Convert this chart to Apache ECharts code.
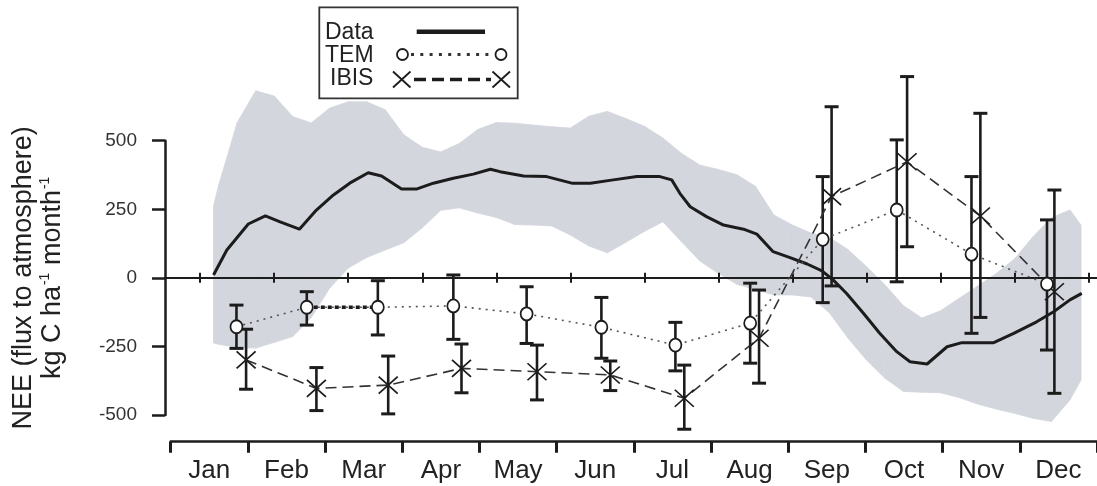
<!DOCTYPE html>
<html>
<head>
<meta charset="utf-8">
<script src="https://cdn.jsdelivr.net/npm/echarts@6/dist/echarts.min.js"></script>
<style>
html,body{margin:0;padding:0;background:#fff;}
#chart{width:1097px;height:486px;}
</style>
</head>
<body>
<div id="chart"></div>
<script>
// ---------- data ----------
const MONTHS = ['Jan','Feb','Mar','Apr','May','Jun','Jul','Aug','Sep','Oct','Nov','Dec'];
const Y_TICKS = [-500, -250, 0, 250, 500];
const MONTH_BOUNDS = [0,1,2,3,4,5,6,7,8,9,10,11,12];

// grey range band (x in months from 1 Jan)
const BAND_X = [0.18,0.25,0.5,0.75,1,1.25,1.5,1.75,2,2.25,2.5,2.75,3,3.25,3.5,3.75,4,4.25,4.5,4.75,5,5.25,5.5,5.75,6,6.25,6.5,6.75,7,7.25,7.5,7.75,8,8.25,8.5,8.75,9,9.25,9.5,9.75,10,10.25,10.5,10.75,11,11.25,11.5,11.75,11.9];
const BAND_UPPER = [262,338,566,682,663,588,565,619,642,642,613,522,476,459,490,541,566,564,557,551,546,589,607,581,553,510,454,411,395,376,334,229,192,163,147,103,41,-26,-102,-147,-121,-76,-31,14,68,149,219,247,192];
const BAND_LOWER = [-238,-243,-255,-257,-236,-215,-145,-38,35,74,101,128,182,246,255,236,220,194,192,189,156,116,91,129,169,204,132,61,16,-24,-43,-63,-63,-70,-128,-220,-300,-367,-415,-418,-420,-437,-461,-479,-495,-513,-525,-446,-373];

// observed data line
const DATA_X = [0.18,0.36,0.65,0.88,1.08,1.34,1.57,1.80,2.02,2.27,2.45,2.72,2.93,3.15,3.42,3.69,3.92,4.05,4.37,4.68,5.02,5.27,5.58,5.90,6.21,6.37,6.48,6.62,6.84,7.07,7.34,7.52,7.74,7.95,8.2,8.4,8.55,8.73,8.96,9.18,9.41,9.59,9.82,10.09,10.29,10.72,10.99,11.3,11.53,11.75,11.91];
const DATA_Y = [10,101,196,226,204,177,247,302,345,383,371,324,324,345,363,378,396,387,371,369,345,345,357,369,369,357,308,259,223,192,177,159,95,75,50,25,-8,-57,-130,-203,-270,-307,-315,-252,-237,-237,-203,-161,-124,-81,-57];

// TEM model
const TEM_X  = [0.49,1.44,2.40,3.42,4.41,5.42,6.42,7.43,8.41,9.41,10.42,11.44];
const TEM_Y  = [-179,-108,-108,-103,-132,-181,-246,-166,140,247,86,-23];
const TEM_LO = [-258,-173,-209,-225,-240,-294,-340,-312,-91,-15,-203,-264];
const TEM_HI = [-100,-51,-11,10,-33,-72,-163,-20,369,503,369,211];

// IBIS model
const IBIS_X  = [0.62,1.57,2.54,3.53,4.55,5.54,6.54,7.55,8.53,9.55,10.54,11.54];
const IBIS_Y  = [-300,-404,-392,-331,-343,-355,-440,-221,296,423,225,-51];
const IBIS_LO = [-407,-485,-497,-420,-446,-412,-553,-385,-30,113,-145,-422];
const IBIS_HI = [-188,-328,-286,-242,-246,-304,-319,-45,624,734,600,320];

// ---------- build ----------
const FONT = 'Liberation Sans, Arial, Helvetica, sans-serif';
const INK = '#1c1c1c';
const BAND_COLOR = '#d3d6dd';
const zip2 = (a, b) => a.map((v, i) => [v, b[i]]);
const zip3 = (a, b, c) => a.map((v, i) => [v, b[i], c[i]]);

// band as consecutive quads between neighbouring samples
const bandSegs = BAND_X.slice(0, -1).map((x, i) =>
  [x, BAND_LOWER[i], BAND_UPPER[i], BAND_X[i + 1], BAND_LOWER[i + 1], BAND_UPPER[i + 1]]);

function bandQuad(params, api) {
  const pts = [
    api.coord([api.value(0), api.value(1)]),
    api.coord([api.value(3), api.value(4)]),
    api.coord([api.value(3), api.value(5)]),
    api.coord([api.value(0), api.value(2)])
  ];
  return {
    type: 'polygon', shape: { points: pts },
    style: { fill: BAND_COLOR, stroke: BAND_COLOR, lineWidth: 0.8 }
  };
}

function errBar(params, api) {
  const x = api.value(0);
  const pLo = api.coord([x, api.value(1)]);
  const pHi = api.coord([x, api.value(2)]);
  const cw = 7;
  const st = { stroke: INK, lineWidth: 2.6 };
  const cap = { stroke: INK, lineWidth: 3 };
  return {
    type: 'group',
    children: [
      { type: 'line', shape: { x1: pLo[0], y1: pLo[1], x2: pHi[0], y2: pHi[1] }, style: st },
      { type: 'line', shape: { x1: pLo[0] - cw, y1: pLo[1], x2: pLo[0] + cw, y2: pLo[1] }, style: cap },
      { type: 'line', shape: { x1: pHi[0] - cw, y1: pHi[1], x2: pHi[0] + cw, y2: pHi[1] }, style: cap }
    ]
  };
}

// data grid geometry: 1 month = 74 px, 0 month at x = 200.2
const XMIN = -0.4755, XMAX = 12.1156;
const DATA_YMIN = -600, DATA_YMAX = 800;

const chart = echarts.init(document.getElementById('chart'), null, { renderer: 'canvas' });

function zeroAxis(position, yIndex) {
  return {
    gridIndex: 2, type: 'value', min: XMIN, max: XMAX, z: 3, position: position,
    axisLine: { show: true, onZero: true, onZeroAxisIndex: yIndex, lineStyle: { color: INK, width: 2 } },
    axisTick: { show: true, customValues: MONTH_BOUNDS, length: 5, lineStyle: { color: INK, width: 2 } },
    axisLabel: { show: false },
    splitLine: { show: false }
  };
}

const option = {
  backgroundColor: '#ffffff',
  animation: false,
  grid: [
    { left: 170.7, right: 0, top: 431, bottom: 44.3 },          // month axis
    { left: 165, width: 10, top: 140.7, bottom: 71 },            // displayed y axis
    { left: 165, right: 0, top: 58.5, bottom: 43.9 }             // data area
  ],
  xAxis: [
    {
      gridIndex: 0, type: 'category', data: MONTHS, boundaryGap: true,
      axisLine: { lineStyle: { color: INK, width: 2.5 } },
      axisTick: { show: true, length: 11, lineStyle: { color: INK, width: 3 } },
      axisLabel: { fontFamily: FONT, fontSize: 26, color: '#222', margin: 16 },
      splitLine: { show: false }
    },
    { gridIndex: 1, type: 'value', show: false },
    zeroAxis('bottom', 2),
    zeroAxis('top', 3)
  ],
  yAxis: [
    { gridIndex: 0, type: 'value', show: false, min: 0, max: 1 },
    {
      gridIndex: 1, type: 'value', min: Y_TICKS[0], max: Y_TICKS[Y_TICKS.length - 1], interval: 250,
      axisLine: { show: true, lineStyle: { color: INK, width: 2.5 } },
      axisTick: { show: true, length: 13, lineStyle: { color: INK, width: 2.5 } },
      axisLabel: { fontFamily: FONT, fontSize: 19, color: '#333', margin: 28 },
      splitLine: { show: false },
      name: '{a|NEE (flux to atmosphere)}\n{a|kg C ha}{s|-1}{a| month}{s|-1}',
      nameLocation: 'middle', nameRotate: 90, nameGap: 98,
      nameTextStyle: {
        rich: {
          a: { fontFamily: FONT, fontSize: 27, color: '#222', lineHeight: 29 },
          s: { fontFamily: FONT, fontSize: 14, color: '#222', lineHeight: 29, verticalAlign: 'top', padding: [0, 0, 0, 1] }
        }
      }
    },
    { gridIndex: 2, type: 'value', show: false, min: DATA_YMIN, max: DATA_YMAX, position: 'left' },
    { gridIndex: 2, type: 'value', show: false, min: DATA_YMIN, max: DATA_YMAX, position: 'right' }
  ],
  graphic: [
    {
      type: 'group', x: 0, y: 0, z: 50,
      children: [
        { type: 'rect', shape: { x: 319.3, y: 7.3, width: 198.4, height: 91 }, style: { fill: '#fff', stroke: '#333', lineWidth: 1.8 } },
        { type: 'text', x: 325, y: 33, style: { text: 'Data', font: '23px ' + FONT, fill: '#222', verticalAlign: 'middle' } },
        { type: 'line', shape: { x1: 416.7, y1: 31.7, x2: 485, y2: 31.7 }, style: { stroke: INK, lineWidth: 4.5 } },
        { type: 'text', x: 325, y: 55.5, style: { text: 'TEM', font: '23px ' + FONT, fill: '#222', verticalAlign: 'middle' } },
        { type: 'line', shape: { x1: 411, y1: 54.5, x2: 490, y2: 54.5 }, style: { stroke: '#333', lineWidth: 3, lineDash: [3, 6.3] } },
        { type: 'circle', shape: { cx: 402.5, cy: 54.5, r: 5.5 }, style: { fill: '#fff', stroke: INK, lineWidth: 1.8 } },
        { type: 'circle', shape: { cx: 501, cy: 54.5, r: 5.5 }, style: { fill: '#fff', stroke: INK, lineWidth: 1.8 } },
        { type: 'text', x: 330, y: 79, style: { text: 'IBIS', font: '23px ' + FONT, fill: '#222', verticalAlign: 'middle' } },
        { type: 'line', shape: { x1: 414, y1: 79.5, x2: 491, y2: 79.5 }, style: { stroke: INK, lineWidth: 3.5, lineDash: [12, 6] } },
        { type: 'line', shape: { x1: 393, y1: 71.5, x2: 410.5, y2: 87.5 }, style: { stroke: INK, lineWidth: 1.8 } },
        { type: 'line', shape: { x1: 393, y1: 87.5, x2: 410.5, y2: 71.5 }, style: { stroke: INK, lineWidth: 1.8 } },
        { type: 'line', shape: { x1: 492.5, y1: 71.5, x2: 510, y2: 87.5 }, style: { stroke: INK, lineWidth: 1.8 } },
        { type: 'line', shape: { x1: 492.5, y1: 87.5, x2: 510, y2: 71.5 }, style: { stroke: INK, lineWidth: 1.8 } }
      ]
    }
  ],
  series: [
    {
      name: 'range', type: 'custom', xAxisIndex: 2, yAxisIndex: 2,
      data: bandSegs, encode: { x: [0, 3], y: [1, 2, 4, 5] },
      renderItem: bandQuad, silent: true, z: 1
    },
    {
      name: 'Data', type: 'line', xAxisIndex: 2, yAxisIndex: 2,
      data: zip2(DATA_X, DATA_Y), symbol: 'none',
      lineStyle: { color: INK, width: 3 }, z: 4
    },
    {
      name: 'TEM err', type: 'custom', xAxisIndex: 2, yAxisIndex: 2,
      data: zip3(TEM_X, TEM_LO, TEM_HI), encode: { x: 0, y: [1, 2] },
      renderItem: errBar, z: 5
    },
    {
      name: 'IBIS err', type: 'custom', xAxisIndex: 2, yAxisIndex: 2,
      data: zip3(IBIS_X, IBIS_LO, IBIS_HI), encode: { x: 0, y: [1, 2] },
      renderItem: errBar, z: 5
    },
    {
      name: 'TEM bold', type: 'line', xAxisIndex: 2, yAxisIndex: 2,
      data: zip2(TEM_X, TEM_Y).slice(1, 3), symbol: 'none',
      lineStyle: { color: INK, width: 3.5, type: [4, 3] }, z: 6
    },
    {
      name: 'IBIS', type: 'line', xAxisIndex: 2, yAxisIndex: 2,
      data: zip2(IBIS_X, IBIS_Y),
      symbol: 'path://M0,0L20,18M20,0L0,18', symbolSize: [19, 17], symbolKeepAspect: false,
      itemStyle: { color: 'none', borderColor: INK, borderWidth: 1.6 },
      lineStyle: { color: '#333', width: 1.6, type: [11, 6] }, z: 6
    },
    {
      name: 'TEM', type: 'line', xAxisIndex: 2, yAxisIndex: 2,
      data: zip2(TEM_X, TEM_Y),
      symbol: 'circle', symbolSize: [12, 13],
      itemStyle: { color: '#fff', borderColor: INK, borderWidth: 1.8 },
      lineStyle: { color: '#555', width: 1.6, type: [2, 5] }, z: 7
    }
  ]
};

chart.setOption(option);
</script>
</body>
</html>
